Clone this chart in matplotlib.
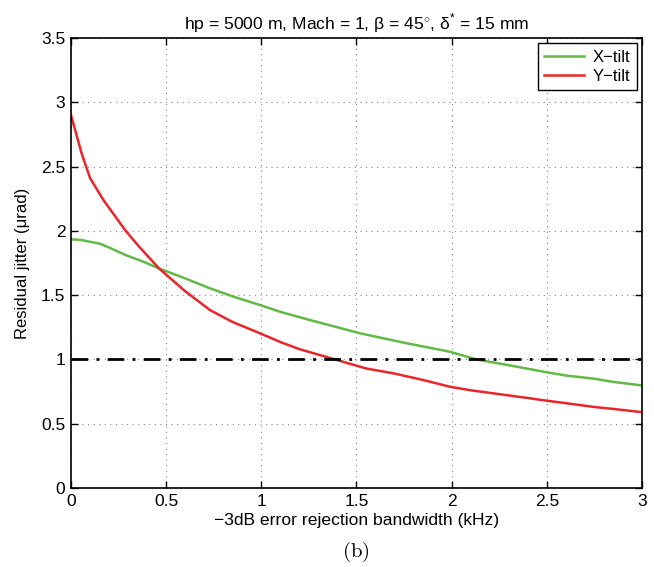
import numpy as np
import matplotlib.pyplot as plt

plt.rcParams['font.family'] = ['Liberation Sans', 'DejaVu Sans']
plt.rcParams['mathtext.fontset'] = 'custom'
plt.rcParams['mathtext.rm'] = 'Liberation Sans'

# Bandwidth (kHz) and residual jitter (urad)
bw_x = [0, 0.05, 0.1, 0.152, 0.2, 0.29, 0.38, 0.462, 0.6, 0.73, 0.85, 0.993, 1.1, 1.256,
        1.4, 1.519, 1.75, 1.99, 2.13, 2.3, 2.5, 2.6, 2.75, 2.85, 3.0]
jit_x = [1.934, 1.93, 1.915, 1.90, 1.87, 1.81, 1.76, 1.708, 1.63, 1.553, 1.49, 1.423, 1.37, 1.306,
         1.25, 1.203, 1.13, 1.06, 1.0, 0.955, 0.90, 0.875, 0.85, 0.825, 0.798]

bw_y = [0, 0.056, 0.1, 0.17, 0.284, 0.35, 0.462, 0.6, 0.73, 0.85, 0.993, 1.1, 1.2, 1.387,
        1.55, 1.7, 1.85, 1.99, 2.1, 2.25, 2.4, 2.5, 2.6, 2.75, 2.85, 3.0]
jit_y = [2.90, 2.60, 2.41, 2.24, 2.006, 1.89, 1.708, 1.53, 1.384, 1.29, 1.203, 1.135, 1.08, 1.0,
         0.93, 0.89, 0.84, 0.788, 0.76, 0.73, 0.70, 0.679, 0.66, 0.63, 0.615, 0.59]

limit = 1.0

fig = plt.figure(figsize=(6.54, 5.67), dpi=100)
ax = fig.add_axes([0.1086, 0.1393, 0.873, 0.7937])

ax.plot(bw_x, jit_x, color='#62b946', lw=1.8, label='X\u2212tilt')
ax.plot(bw_y, jit_y, color='#e8262b', lw=1.8, label='Y\u2212tilt')
ax.axhline(limit, color='black', lw=2, linestyle=(0, (6, 3, 1, 3)))

ax.set_xlim(0, 3)
ax.set_ylim(0, 3.5)
ax.set_xticks(np.arange(0, 3.01, 0.5))
ax.set_yticks(np.arange(0, 3.51, 0.5))
ax.set_xticklabels(['0', '0.5', '1', '1.5', '2', '2.5', '3'])
ax.set_yticklabels(['0', '0.5', '1', '1.5', '2', '2.5', '3', '3.5'])
ax.tick_params(direction='in', top=True, right=True, labelsize=12.5, length=5, width=1, pad=4)
ax.grid(True, color='#888888', linestyle=(0, (1, 4)), lw=0.8)
for s in ax.spines.values():
    s.set_linewidth(1.2)

ax.set_title('hp = 5000 m, Mach = 1, \u03b2 = 45$^{\\circ}$, \u03b4$^{*}$ = 15 mm', fontsize=12.6, pad=6)
ax.set_xlabel('\u22123dB error rejection bandwidth (kHz)', fontsize=12.6, labelpad=3)
ax.set_ylabel('Residual jitter (\u03bcrad)', fontsize=12, labelpad=8)

leg = ax.legend(loc='upper right', fontsize=12, fancybox=False, edgecolor='black',
                framealpha=1, handlelength=2.4, handletextpad=0.5, borderaxespad=0.3,
                labelspacing=0.25, borderpad=0.4)
leg.get_frame().set_linewidth(1.0)

# subfigure tag under the axes
fig.text(0.5445, 0.006, r'$\mathrm{(b)}$', ha='center', va='bottom',
         fontsize=15, math_fontfamily='cm')

plt.savefig('out.png', dpi=100)
